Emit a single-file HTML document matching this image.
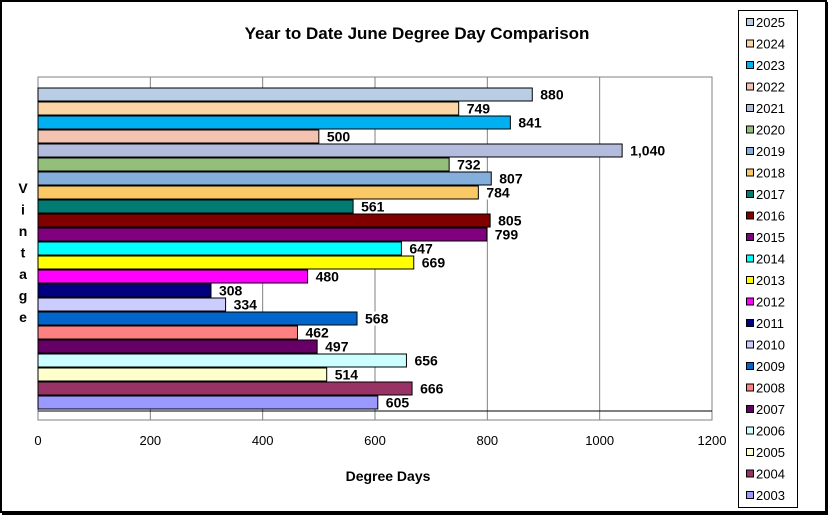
<!DOCTYPE html>
<html><head><meta charset="utf-8">
<style>
html,body{margin:0;padding:0;background:#fff;}
svg{display:block;font-family:"Liberation Sans",Arial,sans-serif;}
</style></head>
<body>
<svg id="chart" width="828" height="515" viewBox="0 0 828 515">
  <rect x="1" y="1" width="825" height="511" fill="#fff" stroke="#000" stroke-width="2"/>
  <line x1="2" y1="513.5" x2="828" y2="513.5" stroke="#000" stroke-width="3"/>
  <line x1="826.5" y1="2" x2="826.5" y2="515" stroke="#000" stroke-width="3"/>
  <text x="417" y="39" text-anchor="middle" font-size="17" font-weight="bold">Year to Date June Degree Day Comparison</text>
  <text x="388" y="481" text-anchor="middle" font-size="14" font-weight="bold">Degree Days</text>
  <g id="ytitle" font-size="14" font-weight="bold" text-anchor="middle"></g>
  <g id="grid"></g>
  <g id="bars"></g>
  <g id="labels"></g>
  <g id="xticks"></g>
  <rect x="738.5" y="10.5" width="59" height="497" fill="#fff" stroke="#000" stroke-width="1"/>
  <g id="legend"></g>
</svg>
<script>
const years = ["2025","2024","2023","2022","2021","2020","2019","2018","2017","2016","2015","2014","2013","2012","2011","2010","2009","2008","2007","2006","2005","2004","2003"];
const values = [880,749,841,500,1040,732,807,784,561,805,799,647,669,480,308,334,568,462,497,656,514,666,605];
const valueLabels = ["880","749","841","500","1,040","732","807","784","561","805","799","647","669","480","308","334","568","462","497","656","514","666","605"];
const colors = ["#b9cde5","#fcd5a5","#00b0f0","#f4c2b0","#b3bcdc","#93bf7b","#84aedc","#fac864","#007c74","#800000","#800080","#00ffff","#ffff00","#ff00ff","#000080","#ccccff","#0066cc","#ff8080","#660066","#ccffff","#ffffcc","#993366","#9999ff"];
const xTicks = [0,200,400,600,800,1000,1200];
const yTitle = ["V","i","n","t","a","g","e"];

const NS="http://www.w3.org/2000/svg";
const X0=38, X1=712, XMAX=1200, PT=77, PB=420, BAR0=88, PITCH=14, BH=13;
const xs = v => X0 + v/XMAX*(X1-X0);
const yb = i => BAR0 + i*PITCH;
function mk(tag, attrs, parent){const e=document.createElementNS(NS,tag);for(const k in attrs)e.setAttribute(k,attrs[k]);document.getElementById(parent).appendChild(e);return e;}

// frame & grid
const pf = mk("rect",{x:X0,y:PT,width:X1-X0,height:PB-PT,fill:"#fff",stroke:"#808080","stroke-width":1},"grid");


xTicks.forEach(t=>{
  const l = mk("line",{x1:xs(t),y1:PT,x2:xs(t),y2:PB,stroke:"#808080","stroke-width":1},"grid");
  
  
  const tx = mk("text",{x:xs(t),y:PB+25,"text-anchor":"middle","font-size":13},"xticks");
  tx.textContent=t;
  
  
});
const ax = mk("line",{x1:X0,y1:411,x2:X1,y2:411,stroke:"#000","stroke-width":1},"grid");



values.forEach((v,i)=>{
  const r = mk("rect",{x:X0,y:yb(i),width:xs(v)-X0,height:BH,fill:colors[i],stroke:"#000","stroke-width":1},"bars");
  
  
  const lx = xs(v)+8, ly = yb(i)+BH/2+5;
  const bg = mk("rect",{x:lx-1,y:ly-12,width:valueLabels[i].length*8.5+2,height:14,fill:"#fff"},"labels");
  
  
  const t = mk("text",{x:lx,y:ly,"font-size":14,"font-weight":"bold"},"labels");
  t.textContent=valueLabels[i];
  
  
});

yTitle.forEach((c,i)=>{
  const t = mk("text",{x:23,y:193+i*21.5},"ytitle");
  t.textContent=c;
  
  
});

years.forEach((y,i)=>{
  const cy = 22+i*21.5;
  const s = mk("rect",{x:746.5,y:cy-3.5,width:7,height:7,fill:colors[i],stroke:"#000","stroke-width":1},"legend");
  
  
  const t = mk("text",{x:756,y:cy+5,"font-size":13},"legend");
  t.textContent=y;
  
  
});
</script>
</body></html>
